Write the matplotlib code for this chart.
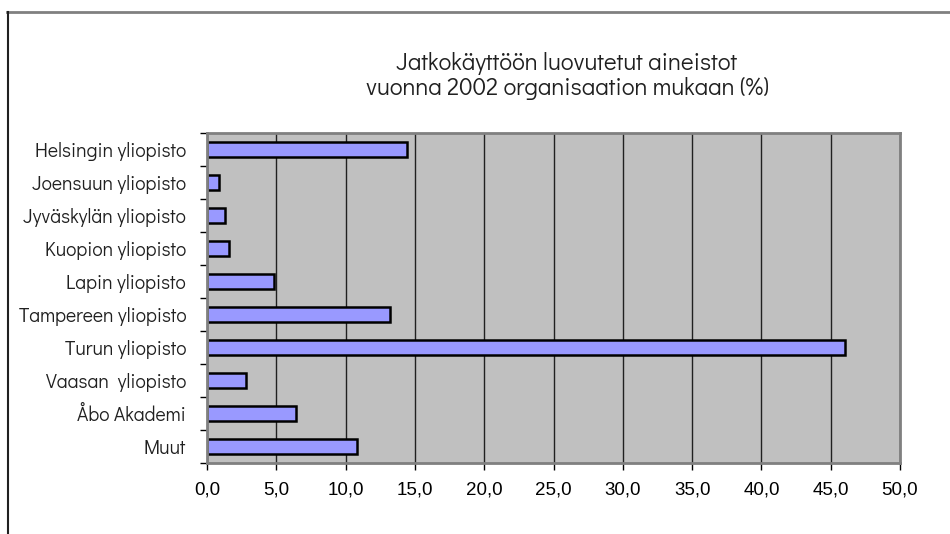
import matplotlib
matplotlib.use("Agg")
import matplotlib.pyplot as plt
import numpy as np
from matplotlib.lines import Line2D

categories = [
    "Helsingin yliopisto",
    "Joensuun yliopisto",
    "Jyväskylän yliopisto",
    "Kuopion yliopisto",
    "Lapin yliopisto",
    "Tampereen yliopisto",
    "Turun yliopisto",
    "Vaasan  yliopisto",
    "Åbo Akademi",
    "Muut",
]
values = [14.4, 0.9, 1.3, 1.6, 4.8, 13.2, 46.0, 2.8, 6.4, 10.8]
xticks = [0, 5, 10, 15, 20, 25, 30, 35, 40, 45, 50]
title = "Jatkokäyttöön luovutetut aineistot\nvuonna 2002 organisaation mukaan (%)"

label_font = ["Didact Gothic", "DejaVu Sans"]
tick_font = ["Liberation Sans", "DejaVu Sans"]

fig = plt.figure(figsize=(9.5, 5.34), dpi=100)
ax = fig.add_axes([207 / 950, 1 - 463 / 534, 693 / 950, 330 / 534])
ax.set_facecolor("#C0C0C0")

y = np.arange(len(categories))
ax.barh(y, values, height=0.45, color="#9999FF", edgecolor="black",
        linewidth=1.8, zorder=3)

ax.set_xlim(0, 50)
ax.set_ylim(len(categories) - 0.5, -0.5)
ax.set_xticks(xticks)
ax.set_xticklabels([f"{v:.1f}".replace(".", ",") for v in xticks],
                   family=tick_font, fontsize=13.5)
ax.grid(axis="x", color="#202020", linewidth=1, zorder=1)

# category labels without ticks, ticks at the category boundaries
ax.set_yticks(y)
ax.set_yticklabels(categories, family=label_font, fontsize=14, color="#202020")
ax.tick_params(axis="y", length=0, pad=15)
ax.set_yticks(np.arange(-0.5, len(categories) + 0.5, 1), minor=True)
ax.tick_params(axis="y", which="minor", length=5, width=1, color="black")
ax.tick_params(axis="x", length=5, width=1, color="black", pad=8)

for s in ax.spines.values():
    s.set_color("#808080")
    s.set_linewidth(2)
    s.set_zorder(4)

ax.set_title(title, family=label_font, fontsize=17.3, color="#202020",
             pad=27, linespacing=1.12, x=(567 - 207) / 693)

# outer chart frame
fig.add_artist(Line2D([7 / 950, 1], [1 - 12 / 534] * 2, color="#808080",
                      linewidth=2, transform=fig.transFigure))
fig.add_artist(Line2D([7.5 / 950] * 2, [0, 1 - 12 / 534], color="#202020",
                      linewidth=1.5, transform=fig.transFigure))

fig.savefig("out.png", dpi=100)
